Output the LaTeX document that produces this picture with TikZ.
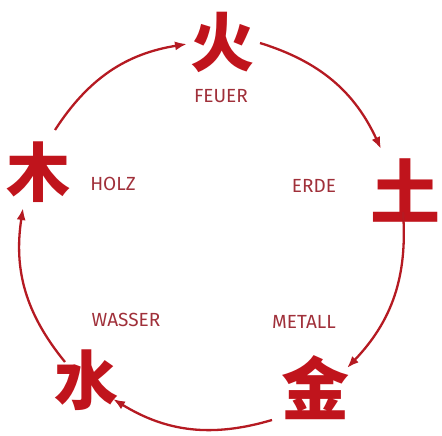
\documentclass[tikz,border=0pt]{standalone}
\usepackage{fontspec}
\setmainfont{Fira Sans}
\newfontfamily\cjk{Noto Sans CJK SC}
\usetikzlibrary{arrows.meta}
\definecolor{charred}{HTML}{C0141C}
\definecolor{labred}{HTML}{A0303A}
\definecolor{arrred}{HTML}{B51A22}
\tikzset{
  glyph/.style={text=charred, inner sep=0pt, font=\cjk\bfseries\fontsize{64}{64}\selectfont},
  lab/.style={text=labred, inner sep=0pt, font=\fontsize{19}{19}\selectfont},
  cyc/.style={draw=arrred, line width=2.3pt, -{Latex[length=12pt,width=9pt]}, bend left=24}
}
\begin{document}
\begin{tikzpicture}[x=1pt,y=-1pt]
\useasboundingbox (0,0) rectangle (442,436);
% characters
\node[glyph] (fire) at (222,42) {火};
\node[glyph,font=\cjk\bfseries\fontsize{70}{70}\selectfont] (earth) at (405,190) {土};
\node[glyph,font=\cjk\bfseries\fontsize{68}{68}\selectfont] (metal) at (315,388) {金};
\node[glyph] (water) at (86,380) {水};
\node[glyph] (wood) at (38,172) {木};
% labels
\node[lab] (lfire) at (221,96) {FEUER};
\node[lab] (learth) at (314,186) {ERDE};
\node[lab] (lmetal) at (304,322) {METALL};
\node[lab] (lwater) at (126,320) {WASSER};
\node[lab] (lwood) at (113,184) {HOLZ};
% arrow ends
\coordinate (a1s) at (55,130);  \coordinate (a1e) at (187,44);
\coordinate (a2s) at (260,43);  \coordinate (a2e) at (381,149);
\coordinate (a3s) at (403,212); \coordinate (a3e) at (347,368);
\coordinate (a4s) at (272,420); \coordinate (a4e) at (113,399);
\coordinate (a5s) at (65,362);  \coordinate (a5e) at (23,208);
\draw[cyc] (a1s) to (a1e);
\draw[cyc] (a2s) to (a2e);
\draw[cyc] (a3s) to (a3e);
\draw[cyc] (a4s) to (a4e);
\draw[cyc] (a5s) to (a5e);
\end{tikzpicture}
\end{document}
